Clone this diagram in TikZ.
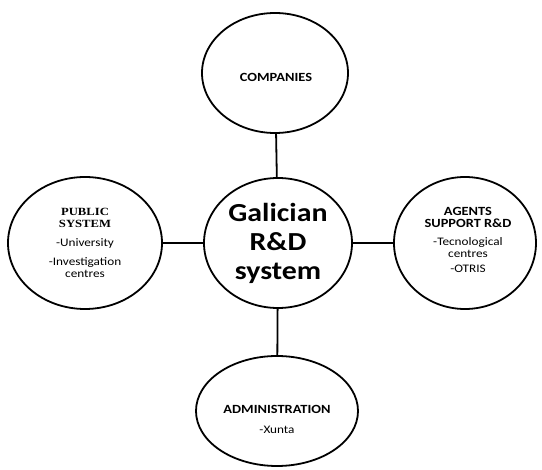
\documentclass[tikz,border=0pt]{standalone}
\usepackage{fontspec}
\setmainfont{Carlito}[FakeStretch=1.15]
\newfontfamily\serifb{Liberation Serif}[FakeStretch=1.15]
\newcommand{\pubfont}{\serifb\bfseries\fontsize{11}{11}\selectfont}
\newcommand{\hd}[1]{{\fontsize{12.5}{12}\selectfont\bfseries #1}}
\usetikzlibrary{shapes.geometric}
\tikzset{
  bubble/.style={draw=black, line width=1.8pt, ellipse, inner sep=0pt, align=center, font=\fontsize{11.5}{12}\selectfont},
  lbl/.style={inner sep=0pt, align=center, font=\fontsize{11.5}{12}\selectfont},
  link/.style={draw=black, line width=1.8pt}
}
\begin{document}
\begin{tikzpicture}[x=1pt,y=-1pt]
\useasboundingbox (0,0) rectangle (542,470);
\node[bubble, minimum width=146pt, minimum height=120pt] (comp) at (275,73) {};
\node[lbl] (compt) at (276,77) {\hd{COMPANIES}};
\node[bubble, minimum width=148pt, minimum height=130pt, font=\fontsize{26}{29}\selectfont\bfseries] (core) at (278,243) {Galician\\R\&D\\system};
\node[bubble, minimum width=154pt, minimum height=132pt] (pub) at (85,243) {\pubfont PUBLIC\\\pubfont SYSTEM\\[7pt]-University\\[7pt]-Investigation\\centres};
\node[bubble, minimum width=142pt, minimum height=132pt] (agt) at (465,243) {};
\node[lbl] (agtt) at (468,240) {\hd{AGENTS}\\\hd{SUPPORT R\&D}\\[6pt]-Tecnological\\centres\\[3pt]-OTRIS};
\node[bubble, minimum width=162pt, minimum height=110pt] (adm) at (277,411) {};
\node[lbl] (admt) at (277,419) {\hd{ADMINISTRATION}\\[8pt]-Xunta};
\draw[link] (comp) -- (core);
\draw[link] (pub) -- (core);
\draw[link] (core) -- (agt);
\draw[link] (core) -- (adm);
\end{tikzpicture}
\end{document}
